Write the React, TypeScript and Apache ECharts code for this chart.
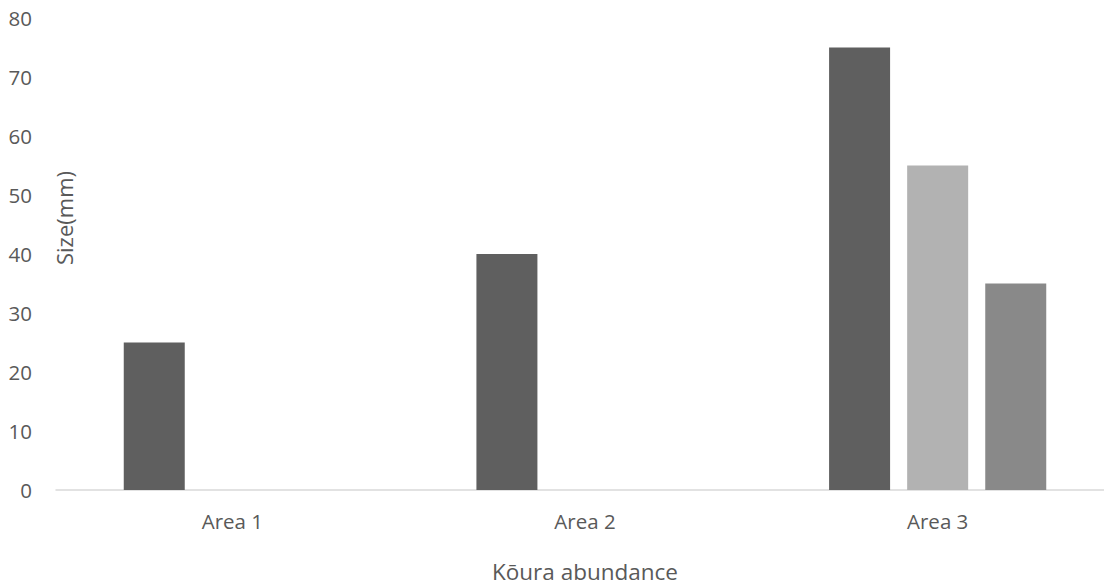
import React, { useEffect, useRef } from "react";
import * as echarts from "echarts";

const categories = ["Area 1", "Area 2", "Area 3"];
const seriesA: (number | null)[] = [25, 40, 75];
const seriesB: (number | null)[] = [null, null, 55];
const seriesC: (number | null)[] = [null, null, 35];
const yTicks = [0, 10, 20, 30, 40, 50, 60, 70, 80];

const FONT = "'Open Sans', 'Noto Sans', sans-serif";
const TEXT = "#595959";

export default function App() {
  const ref = useRef<HTMLDivElement>(null);

  useEffect(() => {
    document.body.style.margin = "0";
    document.body.style.overflow = "hidden";
    if (!ref.current) return;
    const chart = echarts.init(ref.current, undefined, { renderer: "svg" });
    const bar = (name: string, data: (number | null)[], color: string) => ({
      name,
      type: "bar",
      data,
      barWidth: 61,
      barGap: "28%",
      itemStyle: { color },
    });
    chart.setOption({
      animation: false,
      backgroundColor: "#ffffff",
      grid: {
        left: 56,
        right: -10,
        top: 18,
        bottom: 96,
        containLabel: false,
        outerBoundsMode: "none",
      },
      xAxis: {
        type: "category",
        data: categories,
        axisLine: { show: true, lineStyle: { color: "#d9d9d9", width: 1.5 } },
        axisTick: { show: false },
        axisLabel: { color: TEXT, fontFamily: FONT, fontSize: 20.5, margin: 20 },
        name: "Kōura abundance",
        nameLocation: "middle",
        nameGap: 70,
        nameTextStyle: { color: TEXT, fontFamily: FONT, fontSize: 22.5 },
      },
      yAxis: {
        type: "value",
        min: yTicks[0],
        max: yTicks[yTicks.length - 1],
        interval: 10,
        axisLine: { show: false },
        axisTick: { show: false },
        splitLine: { show: false },
        axisLabel: { color: TEXT, fontFamily: FONT, fontSize: 20.5, margin: 24 },
      },
      graphic: [
        {
          type: "text",
          x: 53,
          y: 265,
          rotation: Math.PI / 2,
          style: {
            text: "Size(mm)",
            fill: TEXT,
            font: `22px ${FONT}`,
            textAlign: "left",
            textVerticalAlign: "top",
          },
        },
      ],
      series: [
        bar("Series 1", seriesA, "#5f5f5f"),
        bar("Series 2", seriesB, "#b2b2b2"),
        bar("Series 3", seriesC, "#898989"),
      ],
    });
    return () => chart.dispose();
  }, []);

  return <div ref={ref} style={{ width: 1104, height: 586 }} />;
}
